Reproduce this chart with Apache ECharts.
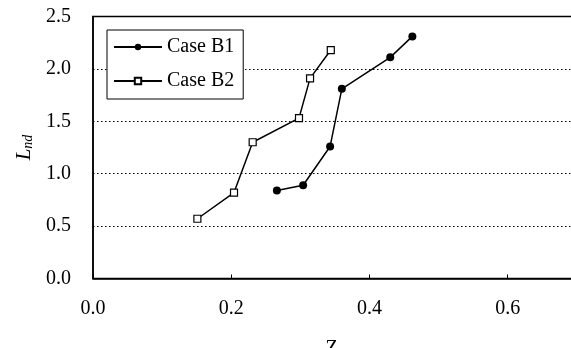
<!DOCTYPE html>
<html>
<head>
<meta charset="utf-8">
<script src="https://cdn.jsdelivr.net/npm/echarts@6/dist/echarts.min.js"></script>
<style>
html,body{margin:0;padding:0;background:#fff;}
#c{width:571px;height:348px;}
</style>
</head>
<body>
<div id="c"></div>
<script>
// Data
const seriesNames = ['Case B1', 'Case B2'];
const b1Zc  = [0.266, 0.304, 0.343, 0.360, 0.430, 0.462];
const b1Lnd = [0.84, 0.89, 1.26, 1.81, 2.11, 2.31];
const b2Zc  = [0.151, 0.204, 0.231, 0.298, 0.314, 0.344];
const b2Lnd = [0.57, 0.82, 1.30, 1.53, 1.91, 2.18];
const xTicks = [0.0, 0.2, 0.4, 0.6, 0.8];
const yTicks = [0.0, 0.5, 1.0, 1.5, 2.0, 2.5];

const FONT = 'Liberation Serif';
const pairs = (xs, ys) => xs.map((x, i) => [x, ys[i]]);

const chart = echarts.init(document.getElementById('c'), null, {renderer: 'canvas'});
chart.setOption({
  animation: false,
  backgroundColor: '#fff',
  grid: {
    left: 93, top: 16.5, width: 553, height: 262,
    containLabel: false,
    outerBoundsMode: 'none',
    show: true, borderColor: '#000', borderWidth: 1.5, backgroundColor: 'transparent'
  },
  legend: {
    data: seriesNames,
    orient: 'vertical',
    left: 107, top: 30,
    padding: [7, 9, 8, 6],
    itemGap: 14,
    itemWidth: 48, itemHeight: 8,
    borderColor: '#000', borderWidth: 1,
    backgroundColor: '#fff',
    textStyle: {fontFamily: FONT, fontSize: 20, color: '#000'}
  },
  xAxis: {
    type: 'value',
    min: xTicks[0], max: xTicks[xTicks.length - 1], interval: 0.2,
    name: 'Z{s|c}',
    nameLocation: 'middle',
    nameGap: 60,
    nameTextStyle: {
      fontFamily: FONT, fontSize: 20, color: '#000', padding: [0, 70, 0, 0],
      rich: {s: {fontFamily: FONT, fontSize: 13, color: '#000', verticalAlign: 'bottom'}}
    },
    axisLine: {show: true, lineStyle: {color: '#000', width: 1.5}},
    axisTick: {show: true, inside: true, length: 4, lineStyle: {color: '#000'}},
    axisLabel: {
      fontFamily: FONT, fontSize: 20, color: '#000', margin: 20,
      formatter: v => v.toFixed(1)
    },
    splitLine: {show: false}
  },
  yAxis: {
    type: 'value',
    min: yTicks[0], max: yTicks[yTicks.length - 1], interval: 0.5,
    name: '{l|L}{s|nd}',
    nameLocation: 'middle',
    nameRotate: 90,
    nameGap: 56,
    nameTextStyle: {
      rich: {
        l: {fontFamily: FONT, fontStyle: 'italic', fontSize: 21, color: '#000'},
        s: {fontFamily: FONT, fontStyle: 'italic', fontSize: 14, color: '#000', verticalAlign: 'bottom', padding: [8, 0, 0, 0]}
      }
    },
    axisLine: {show: true, lineStyle: {color: '#000', width: 1.5}},
    axisTick: {show: false},
    axisLabel: {
      fontFamily: FONT, fontSize: 20, color: '#000', margin: 22,
      formatter: v => v.toFixed(1)
    },
    splitLine: {show: true, lineStyle: {color: '#000', width: 1.2, type: [1.5, 2.5]}}
  },
  series: [
    {
      name: seriesNames[0], type: 'line',
      data: pairs(b1Zc, b1Lnd),
      symbol: 'circle', symbolSize: 8,
      lineStyle: {color: '#000', width: 1.5},
      itemStyle: {color: '#000'},
      z: 3
    },
    {
      name: seriesNames[1], type: 'line',
      data: pairs(b2Zc, b2Lnd),
      symbol: 'rect', symbolSize: 7,
      lineStyle: {color: '#000', width: 1.5},
      itemStyle: {color: '#fff', borderColor: '#000', borderWidth: 1.2},
      z: 3
    }
  ]
});
</script>
</body>
</html>
